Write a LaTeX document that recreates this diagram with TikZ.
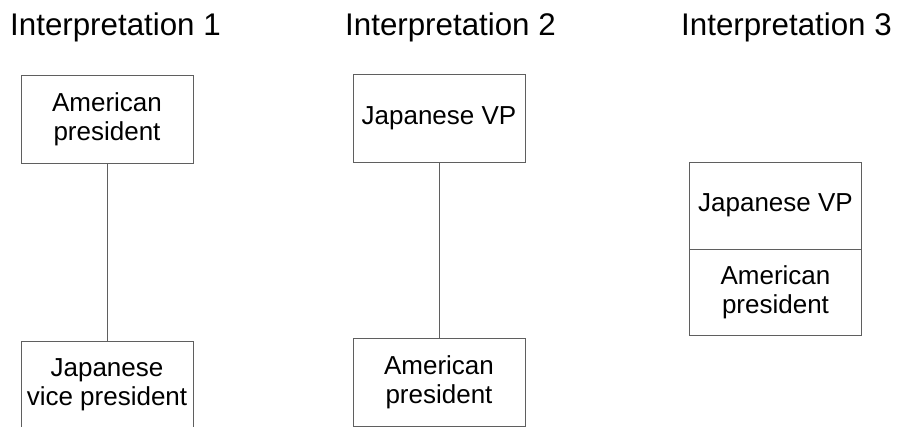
\documentclass[tikz,border=0pt]{standalone}
\usepackage{fontspec}
\setmainfont{Liberation Sans}
\definecolor{linegray}{RGB}{95,95,95}
\begin{document}
\begin{tikzpicture}[x=1pt,y=-1pt,
  box/.style={draw=linegray, line width=1pt, minimum width=172pt,
    minimum height=88pt, inner sep=0pt, align=center,
    font=\fontsize{26}{29}\selectfont},
  title/.style={anchor=base west, inner sep=0pt,
    font=\fontsize{31.3}{35}\selectfont},
  link/.style={draw=linegray, line width=1pt}]
\useasboundingbox (0,0) rectangle (900,426);
\clip (0,0) rectangle (900,426);

% column headings
\node[title] (t1) at (10,35) {Interpretation 1};
\node[title] (t2) at (345,35) {Interpretation 2};
\node[title] (t3) at (681,35) {Interpretation 3};

% first reading: two boxes joined by a line
\node[box] (a1) at (107,119) {American\\president};
\node[box] (b1) at (107,385) {Japanese\\vice president};
\draw[link] (a1.south) -- (b1.north);

% second reading
\node[box] (a2) at (439,118.5) {Japanese VP};
\node[box] (b2) at (439,382) {American\\president};
\draw[link] (a2.south) -- (b2.north);

% third reading: stacked boxes
\node[box, minimum height=87pt] (a3) at (775.5,205.5) {Japanese VP};
\node[box, minimum height=86pt] (b3) at (775.5,292) {American\\president};
\end{tikzpicture}
\end{document}
